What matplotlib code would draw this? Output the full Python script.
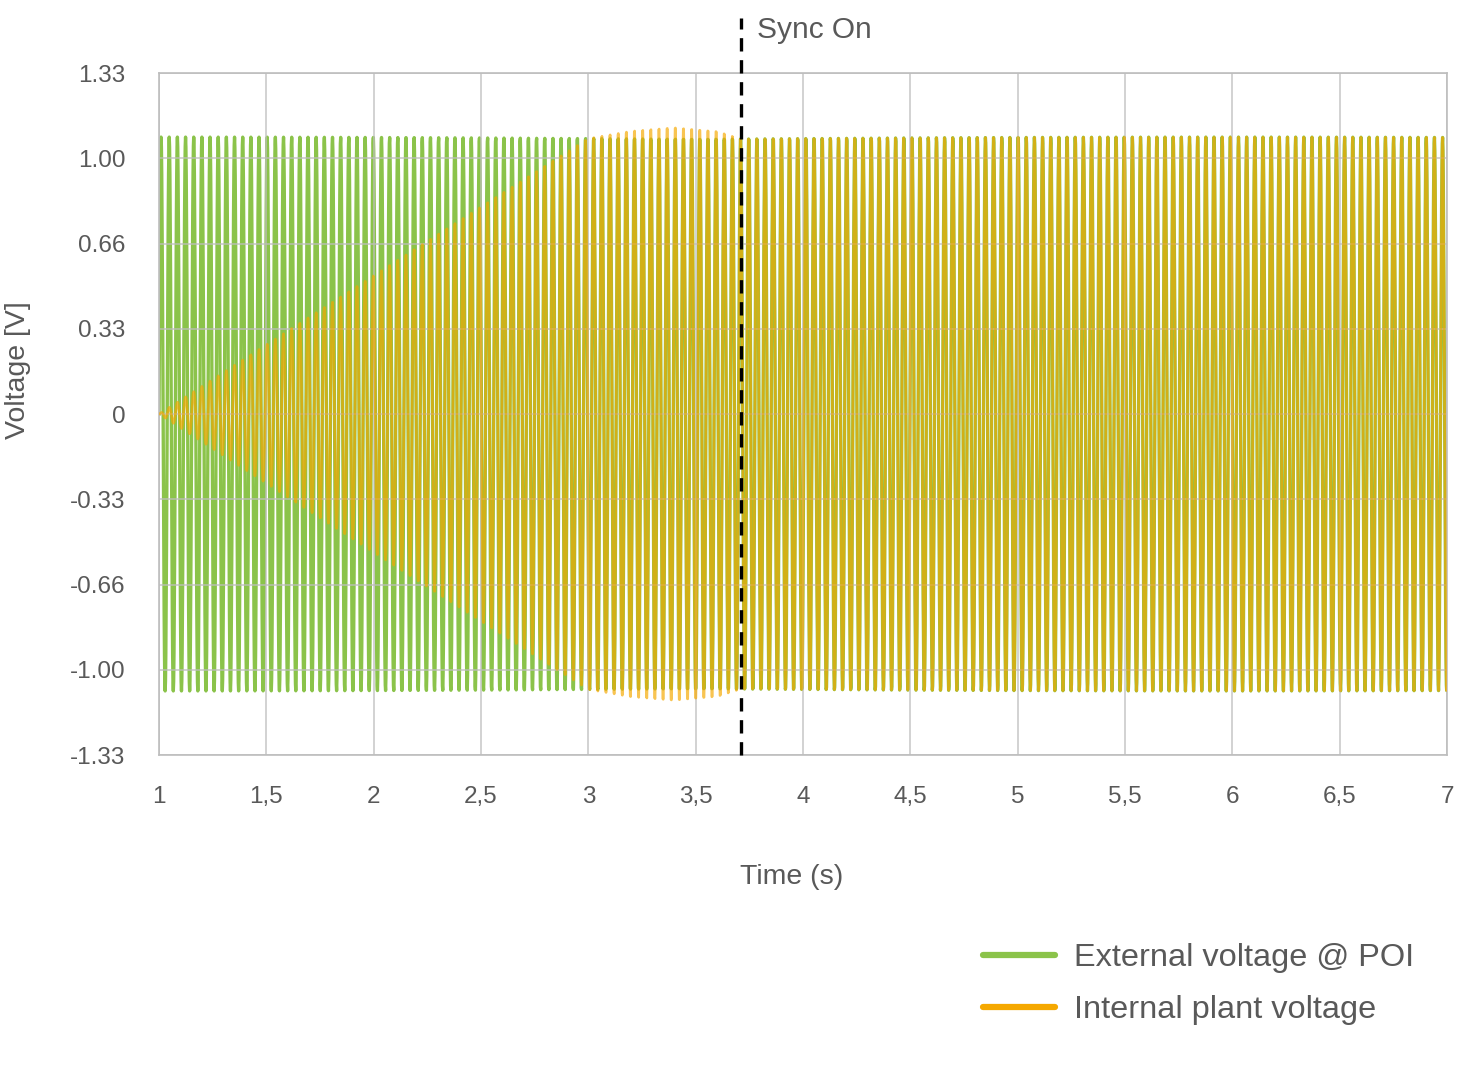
import numpy as np
import matplotlib.pyplot as plt

# Datos
t_inicio = 1.0
t_fin = 7.0
frecuencia = 26.3          # Hz (ciclos visibles en la gráfica)
amp_externa = 1.08         # amplitud de la tensión externa @ POI
t_sync = 3.71              # instante de sincronización

# Envolvente de la tensión interna (puntos leídos)
env_t = [1.0, 3.0, 3.2, 3.4, 3.6, 3.71, 7.0]
env_amp = [0.0, 1.08, 1.11, 1.125, 1.11, 1.08, 1.08]

y_ticks = [-1.33, -0.9975, -0.665, -0.3325, 0, 0.3325, 0.665, 0.9975, 1.33]
y_labels = ["-1.33", "-1.00", "-0.66", "-0.33", "0", "0.33", "0.66", "1.00", "1.33"]
x_ticks = [1, 1.5, 2, 2.5, 3, 3.5, 4, 4.5, 5, 5.5, 6, 6.5, 7]
x_labels = ["1", "1,5", "2", "2,5", "3", "3,5", "4", "4,5", "5", "5,5", "6", "6,5", "7"]

verde = "#8BC34A"
naranja = "#F5A800"
gris_texto = "#595959"

plt.rcParams['font.family'] = ['Liberation Sans', 'DejaVu Sans']

t = np.linspace(t_inicio, t_fin, int((t_fin - t_inicio) * frecuencia * 24))
onda = np.sin(2 * np.pi * frecuencia * (t - t_inicio))
v_ext = amp_externa * onda
v_int = np.interp(t, env_t, env_amp) * onda

fig = plt.figure(figsize=(14.67, 10.8), dpi=100)
ax = fig.add_axes([0.1084, 0.3009, 0.878, 0.6315])

ax.plot(t, v_ext, color=verde, linewidth=2.4, zorder=2)
ax.plot(t, v_int, color=naranja, linewidth=1.9, alpha=0.68, zorder=3)

ax.set_xlim(t_inicio, t_fin)
ax.set_ylim(-1.33, 1.33)
ax.set_xticks(x_ticks)
ax.set_xticklabels(x_labels)
ax.set_yticks(y_ticks)
ax.set_yticklabels(y_labels)
ax.tick_params(length=0, labelsize=17.5, colors=gris_texto)
ax.tick_params(axis='x', pad=22)
ax.tick_params(axis='y', pad=24)
ax.grid(True, color="#BDBDBD", linewidth=1.2, alpha=0.8, zorder=4)
ax.set_axisbelow(False)
for s in ax.spines.values():
    s.set_color("#BDBDBD")
    s.set_linewidth(1.2)

# Línea de sincronización
ax.plot([t_sync, t_sync], [-1.33, 1.545], color="black", linewidth=2.4,
        linestyle=(0, (4, 2.6)), clip_on=False, zorder=6)
ax.text(t_sync + 0.075, 1.498, "Sync On", fontsize=21.5, color=gris_texto,
        va="center", ha="left", clip_on=False)

fig.text(18 / 1467, 1 - 370 / 1080, "Voltage [V]", rotation=90, fontsize=20.5,
         color=gris_texto, ha="center", va="center")
fig.text(792 / 1467, 1 - 877 / 1080, "Time (s)", fontsize=20.5,
         color=gris_texto, ha="center", va="center")

h1, = ax.plot([], [], color=verde, linewidth=4.5, solid_capstyle="round")
h2, = ax.plot([], [], color=naranja, linewidth=4.5, solid_capstyle="round")
leg = fig.legend([h1, h2], ["External voltage @ POI", "Internal plant voltage"],
                 loc="center left", bbox_to_anchor=(983 / 1467, 1 - 984 / 1080),
                 frameon=False, fontsize=23.4, handlelength=2.2, handletextpad=0.6,
                 labelspacing=0.68, borderpad=0, borderaxespad=0)
for txt in leg.get_texts():
    txt.set_color(gris_texto)

plt.savefig("out.png", dpi=100)
